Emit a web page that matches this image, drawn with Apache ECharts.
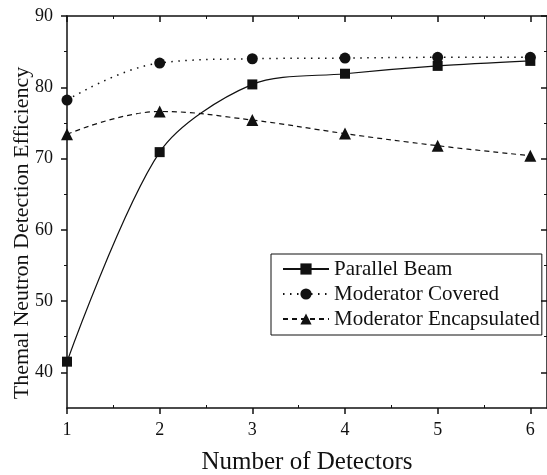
<!DOCTYPE html>
<html>
<head>
<meta charset="utf-8">
<script src="https://cdn.jsdelivr.net/npm/echarts@6/dist/echarts.min.js"></script>
<style>
  html, body { margin: 0; padding: 0; background: #fff; }
  #chart { width: 547px; height: 475px; }
</style>
</head>
<body>
<div id="chart"></div>
<script>
const detectors = [1, 2, 3, 4, 5, 6]
const parallelBeam = [41.5, 70.9, 80.4, 81.9, 83.0, 83.7]
const moderatorCovered = [78.2, 83.4, 84.0, 84.1, 84.2, 84.2]
const moderatorEncapsulated = [73.4, 76.6, 75.4, 73.5, 71.8, 70.4]

const xTicks = [1, 2, 3, 4, 5, 6]
const xMinorTicks = [1.5, 2.5, 3.5, 4.5, 5.5]
const yTicks = [40, 50, 60, 70, 80, 90]
const yMinorTicks = [45, 55, 65, 75, 85]

const font = 'Liberation Serif'
const ink = '#111'

function pairs(ys) {
    return detectors.map((x, i) => [x, ys[i]])
}

// one axis = line + major ticks (+labels); a twin axis carries the short minor ticks
function xAxisPair(position, inside, withLabels) {
    const base = { type: 'value', position: position, min: 1, max: 6.18, splitLine: { show: false } }
    return [
        Object.assign({}, base, {
            name: withLabels ? 'Number of Detectors' : '',
            nameLocation: 'middle',
            nameGap: 42,
            nameMoveOverlap: false,
            nameTextStyle: { fontFamily: font, fontSize: 25, color: ink },
            axisLine: { show: true, lineStyle: { color: ink, width: 1.5 } },
            axisTick: { show: true, inside: inside, length: 6, customValues: xTicks, lineStyle: { color: ink, width: 1.5 } },
            axisLabel: { show: withLabels, customValues: xTicks, margin: 13, fontFamily: font, fontSize: 18, color: ink }
        }),
        Object.assign({}, base, {
            axisLine: { show: false },
            axisTick: { show: true, inside: true, length: 3, customValues: xMinorTicks, lineStyle: { color: ink, width: 1 } },
            axisLabel: { show: false }
        })
    ]
}

function yAxisPair(position, inside, withLabels) {
    const base = { type: 'value', position: position, min: 35, max: 90, splitLine: { show: false } }
    return [
        Object.assign({}, base, {
            name: withLabels ? 'Themal Neutron Detection Efficiency' : '',
            nameLocation: 'middle',
            nameGap: 34,
            nameMoveOverlap: false,
            nameTextStyle: { fontFamily: font, fontSize: 22, color: ink, padding: [0, 42, 0, 0] },
            axisLine: { show: true, lineStyle: { color: ink, width: 1.5 } },
            axisTick: { show: true, inside: inside, length: 6, customValues: yTicks, lineStyle: { color: ink, width: 1.5 } },
            axisLabel: { show: withLabels, customValues: yTicks, margin: 14, fontFamily: font, fontSize: 18, color: ink }
        }),
        Object.assign({}, base, {
            axisLine: { show: false },
            axisTick: { show: true, inside: inside, length: 3, customValues: yMinorTicks, lineStyle: { color: ink, width: 1 } },
            axisLabel: { show: false }
        })
    ]
}

const chart = echarts.init(document.getElementById('chart'), null, { renderer: 'canvas' })

chart.setOption({
    animation: false,
    backgroundColor: '#fff',
    grid: { left: 67, right: 0, top: 16, bottom: 67, outerBoundsMode: 'none' },
    xAxis: [].concat(xAxisPair('bottom', false, true), xAxisPair('top', true, false)),
    yAxis: [].concat(yAxisPair('left', false, true), yAxisPair('right', true, false)),
    legend: {
        orient: 'vertical',
        left: 271,
        top: 254,
        padding: [4, 2, 5, 11],
        itemGap: 3,
        itemWidth: 46,
        itemHeight: 14,
        borderColor: ink,
        borderWidth: 1,
        textStyle: { fontFamily: font, fontSize: 21, color: ink, lineHeight: 22 },
        data: ['Parallel Beam', 'Moderator Covered', 'Moderator Encapsulated']
    },
    series: [
        {
            name: 'Parallel Beam',
            type: 'line',
            data: pairs(parallelBeam),
            smooth: 0.3,
            symbol: 'rect',
            symbolSize: 10,
            itemStyle: { color: ink },
            lineStyle: { color: ink, width: 1.2, type: 'solid' }
        },
        {
            name: 'Moderator Covered',
            type: 'line',
            data: pairs(moderatorCovered),
            smooth: 0.4,
            symbol: 'circle',
            symbolSize: 11,
            itemStyle: { color: ink },
            lineStyle: { color: ink, width: 1.5, type: [1.5, 5.5] }
        },
        {
            name: 'Moderator Encapsulated',
            type: 'line',
            data: pairs(moderatorEncapsulated),
            smooth: 0.4,
            symbol: 'triangle',
            symbolSize: 12,
            itemStyle: { color: ink },
            lineStyle: { color: ink, width: 1.2, type: [5, 4] }
        }
    ]
})
</script>
</body>
</html>
